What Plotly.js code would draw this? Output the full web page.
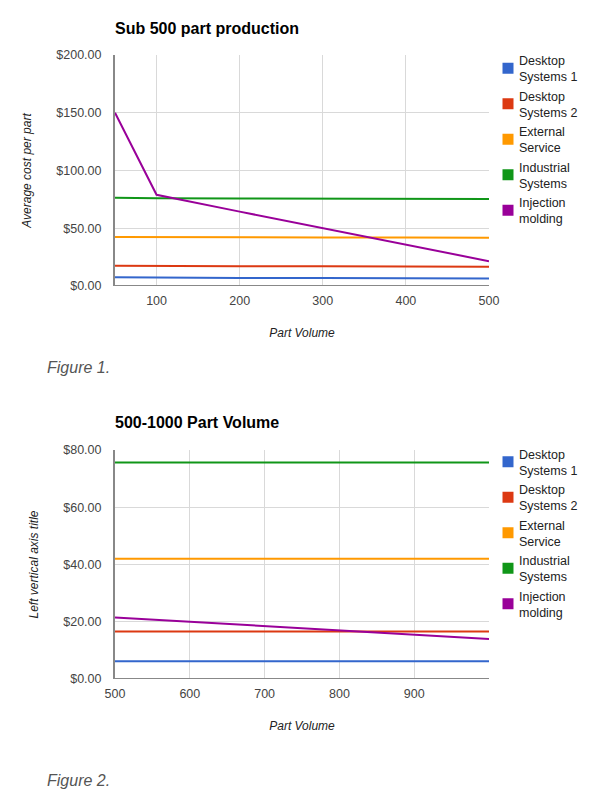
<!DOCTYPE html>
<html>
<head>
<meta charset="utf-8">
<script src="https://cdn.plot.ly/plotly-3.0.1.min.js"></script>
<style>
html,body{margin:0;padding:0;background:#fff;}
#chart{width:606px;height:808px;}
/* pull legend labels closer to their swatches, as in the reference */
#chart text.legendtext, #chart text.legend2text{transform:translateX(-9px);}
</style>
</head>
<body>
<div id="chart"></div>
<script>
// ---- Data ----
const seriesNames = ["Desktop<br>Systems 1", "Desktop<br>Systems 2", "External<br>Service", "Industrial<br>Systems", "Injection<br>molding"];
const seriesColors = ["#3366cc", "#dc3912", "#ff9900", "#109618", "#990099"];

// Figure 1: Sub 500 part production
const fig1X = [50, 100, 200, 300, 400, 500];
const fig1Desktop1 = [7.6, 7.2, 7.0, 6.9, 6.8, 6.6];
const fig1Desktop2 = [17.6, 17.3, 17.1, 17.0, 16.9, 16.7];
const fig1External = [42.4, 42.2, 42.1, 42.0, 41.9, 41.8];
const fig1Industrial = [76.5, 76.0, 75.8, 75.6, 75.5, 75.3];
const fig1Injection = [150, 79, 64.4, 50.2, 36.2, 21.5];
const fig1XTicks = [100, 200, 300, 400, 500];
const fig1YTicks = [0, 50, 100, 150, 200];
const fig1YTickText = ["$0.00", "$50.00", "$100.00", "$150.00", "$200.00"];

// Figure 2: 500-1000 Part Volume
const fig2X = [500, 600, 700, 800, 900, 1000];
const fig2Desktop1 = [6.2, 6.2, 6.2, 6.2, 6.2, 6.2];
const fig2Desktop2 = [16.6, 16.6, 16.6, 16.6, 16.6, 16.6];
const fig2External = [42.0, 42.0, 42.0, 42.0, 42.0, 42.0];
const fig2Industrial = [75.6, 75.6, 75.6, 75.6, 75.6, 75.6];
const fig2Injection = [21.5, 20.0, 18.5, 16.9, 15.5, 14.0];
const fig2XTicks = [500, 600, 700, 800, 900];
const fig2YTicks = [0, 20, 40, 60, 80];
const fig2YTickText = ["$0.00", "$20.00", "$40.00", "$60.00", "$80.00"];

const fig1Series = [fig1Desktop1, fig1Desktop2, fig1External, fig1Industrial, fig1Injection];
const fig2Series = [fig2Desktop1, fig2Desktop2, fig2External, fig2Industrial, fig2Injection];

// ---- Traces ----
const FONT = '"Liberation Sans", Arial, sans-serif';
const traces = [];
function addChart(xs, series, xa, ya, legendId) {
  series.forEach((ys, i) => {
    traces.push({
      type: 'scatter', mode: 'lines', x: xs, y: ys,
      xaxis: xa, yaxis: ya, name: seriesNames[i],
      line: {color: seriesColors[i], width: 2},
      showlegend: false, hoverinfo: 'skip', cliponaxis: true
    });
  });
  // legend entries (square swatches)
  series.forEach((ys, i) => {
    traces.push({
      type: 'scatter', mode: 'markers', x: [null], y: [null],
      xaxis: xa, yaxis: ya, name: seriesNames[i], legend: legendId,
      legendgroup: legendId + '_' + i,
      marker: {symbol: 'square', size: 11, color: seriesColors[i]},
      showlegend: true, hoverinfo: 'skip'
    });
  });
}
addChart(fig1X, fig1Series, 'x', 'y', 'legend');
addChart(fig2X, fig2Series, 'x2', 'y2', 'legend2');

// ---- Layout helpers (pixel -> paper) ----
const W = 606, H = 808;
const px = v => v / W;
const py = v => 1 - v / H;

const tickFont = {family: FONT, size: 12.5, color: '#444'};
const axisTitleFont = {family: FONT, size: 12, color: '#222', style: 'italic'};
const legendFont = {family: FONT, size: 12.5, color: '#222'};

function xAxis(range, ticks, domain, anchor) {
  return {
    domain: domain, anchor: anchor, range: range, tickvals: ticks,
    ticktext: ticks.map(String), tickfont: tickFont,
    showgrid: true, gridcolor: '#d9d9d9', gridwidth: 1,
    zeroline: false, showline: false, ticks: '', fixedrange: true,
    ticklabelstandoff: 5,
    title: {text: '<i>Part Volume</i>', font: axisTitleFont, standoff: 22}
  };
}
function yAxis(range, ticks, text, domain, anchor, title) {
  return {
    domain: domain, anchor: anchor, range: range, tickvals: ticks, ticktext: text,
    tickfont: tickFont, showgrid: true, gridcolor: '#d9d9d9', gridwidth: 1,
    zeroline: false, showline: true, linecolor: '#888', linewidth: 2,
    ticks: '', ticklabelstandoff: 9, fixedrange: true,
    title: {text: '<i>' + title + '</i>', font: axisTitleFont, standoff: 22}
  };
}

function legendCfg(topPx) {
  return {
    x: px(488), y: py(topPx), xanchor: 'left', yanchor: 'top',
    font: legendFont, bgcolor: 'rgba(0,0,0,0)', itemwidth: 30,
    tracegroupgap: 0, itemclick: false, itemdoubleclick: false
  };
}

const layout = {
  width: W, height: H,
  margin: {l: 0, r: 0, t: 0, b: 0},
  paper_bgcolor: '#fff', plot_bgcolor: '#fff',
  font: {family: FONT},
  showlegend: true,
  xaxis: xAxis([50, 500], fig1XTicks, [px(115), px(489)], 'y'),
  yaxis: yAxis([0, 200], fig1YTicks, fig1YTickText, [py(286), py(55)], 'x', 'Average cost per part'),
  xaxis2: xAxis([500, 1000], fig2XTicks, [px(115), px(489)], 'y2'),
  yaxis2: yAxis([0, 80], fig2YTicks, fig2YTickText, [py(679), py(450)], 'x2', 'Left vertical axis title'),
  legend: legendCfg(45.5),
  legend2: legendCfg(439),
  shapes: [
    // baselines at $0
    {type: 'line', xref: 'x', yref: 'y', x0: 50, x1: 500, y0: 0, y1: 0, line: {color: '#888', width: 2}},
    {type: 'line', xref: 'x2', yref: 'y2', x0: 500, x1: 1000, y0: 0, y1: 0, line: {color: '#888', width: 2}}
  ],
  annotations: [
    {text: '<b>Sub 500 part production</b>', xref: 'paper', yref: 'paper', x: px(113), y: py(28),
     xanchor: 'left', yanchor: 'middle', showarrow: false, font: {family: FONT, size: 16, color: '#000'}},
    {text: '<b>500-1000 Part Volume</b>', xref: 'paper', yref: 'paper', x: px(113), y: py(422),
     xanchor: 'left', yanchor: 'middle', showarrow: false, font: {family: FONT, size: 16, color: '#000'}},
    {text: '<i>Figure 1.</i>', xref: 'paper', yref: 'paper', x: px(45), y: py(368),
     xanchor: 'left', yanchor: 'middle', showarrow: false, font: {family: FONT, size: 16, color: '#555'}},
    {text: '<i>Figure 2.</i>', xref: 'paper', yref: 'paper', x: px(45), y: py(780),
     xanchor: 'left', yanchor: 'middle', showarrow: false, font: {family: FONT, size: 16, color: '#555'}}
  ]
};

Plotly.newPlot('chart', traces, layout, {staticPlot: true, displayModeBar: false});
</script>
</body>
</html>
